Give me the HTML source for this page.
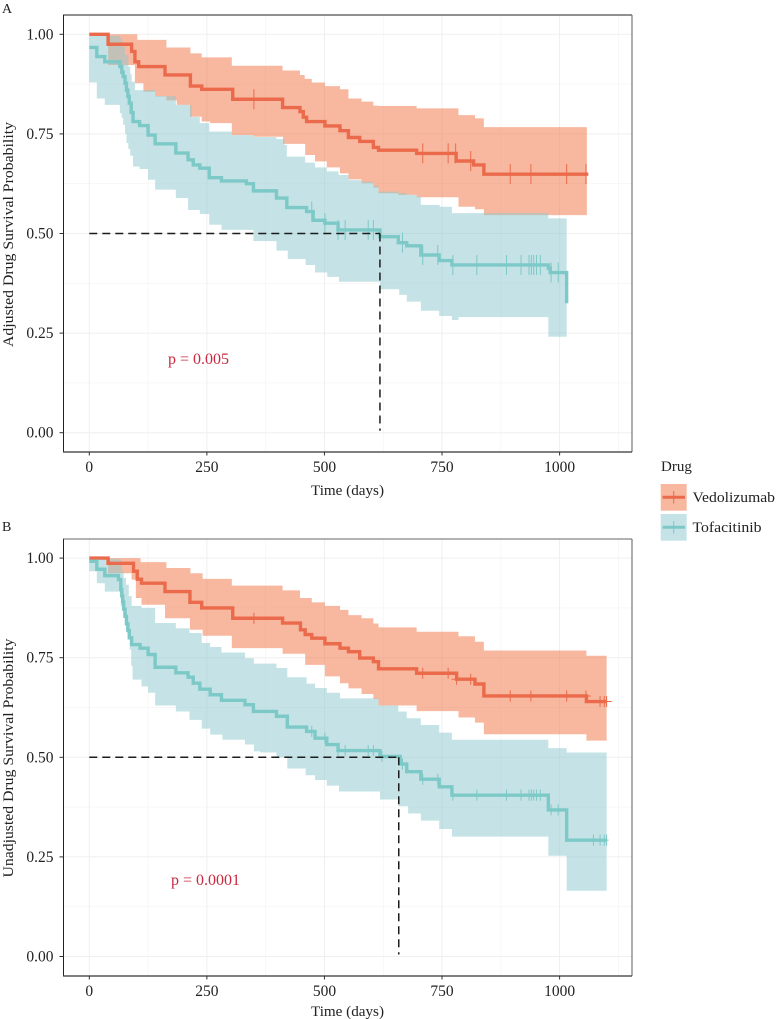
<!DOCTYPE html>
<html lang="en">
<head>
<meta charset="utf-8">
<title>Drug survival curves</title>
<style>
html,body{margin:0;padding:0;background:#fff;width:776px;height:1019px;overflow:hidden}
svg{display:block;font-family:"Liberation Serif",serif;fill:#222}
text{font-size:15px}
</style>
</head>
<body>
<svg id="chart" width="776" height="1019" viewBox="0 0 776 1019" xmlns="http://www.w3.org/2000/svg">
  <text x="2" y="13" style="font-size:14px">A</text>
  <text x="2" y="531" style="font-size:14px">B</text>
  <g id="panelA"></g>
  <g id="panelB"></g>
  <text x="347.5" y="495" text-anchor="middle" textLength="73" lengthAdjust="spacingAndGlyphs">Time (days)</text>
  <text x="347.5" y="1016" text-anchor="middle" textLength="73" lengthAdjust="spacingAndGlyphs">Time (days)</text>
  <text transform="translate(13,234.5) rotate(-90)" text-anchor="middle" textLength="225" lengthAdjust="spacingAndGlyphs">Adjusted Drug Survival Probability</text>
  <text transform="translate(13,758) rotate(-90)" text-anchor="middle" textLength="239" lengthAdjust="spacingAndGlyphs">Unadjusted Drug Survival Probability</text>
  <text x="168" y="364" style="font-size:16px;fill:#c9283e">p = 0.005</text>
  <text x="171" y="885" style="font-size:16px;fill:#c9283e">p = 0.0001</text>
  <g>
    <text x="661" y="471">Drug</text>
    <g>
      <rect x="660.7" y="484" width="26" height="26.7" fill="#f8b8a0"></rect>
      <line x1="662.5" x2="685" y1="497.3" y2="497.3" stroke="#ea6a4b" stroke-width="3"></line>
      <line x1="673.7" x2="673.7" y1="491" y2="503.5" stroke="#ea6a4b" stroke-width="1"></line>
      <text x="692.5" y="502" textLength="82.5" lengthAdjust="spacingAndGlyphs">Vedolizumab</text>
    </g>
    <g>
      <rect x="660.7" y="514" width="26" height="26.7" fill="#c5e3e6"></rect>
      <line x1="662.5" x2="685" y1="527.3" y2="527.3" stroke="#7cc9c7" stroke-width="3"></line>
      <line x1="673.7" x2="673.7" y1="521" y2="533.5" stroke="#7cc9c7" stroke-width="1"></line>
      <text x="692.5" y="532" textLength="69" lengthAdjust="spacingAndGlyphs">Tofacitinib</text>
    </g>
  </g>
</svg>
<script>
// ---- Axis tick values and labels ----
const xTickValues = [0, 250, 500, 750, 1000];
const xTickLabels = ['0', '250', '500', '750', '1000'];
const xMinorValues = [125, 375, 625, 875, 1125];
const yTickValues = [0, 0.25, 0.5, 0.75, 1];
const yTickLabels = ['0.00', '0.25', '0.50', '0.75', '1.00'];
const yMinorValues = [0.125, 0.375, 0.625, 0.875];

// ---- Panel A: Vedolizumab ----
const aVedoTime = [0, 40, 90, 97, 105, 161, 215, 239, 305, 411, 448, 455, 462, 501, 533, 551, 575, 604, 615, 696, 780, 817, 839];
const aVedoSurv = [1, 0.975, 0.957, 0.931, 0.919, 0.898, 0.870, 0.862, 0.837, 0.816, 0.806, 0.792, 0.781, 0.770, 0.758, 0.741, 0.731, 0.716, 0.709, 0.701, 0.682, 0.672, 0.649];
const aVedoEnd = 1061;
const aVedoCensor = [350, 709, 763, 779, 811, 895, 939, 1015, 1056];
const aVedoUpperTime = [0, 102, 164, 215, 239, 303, 411, 448, 458, 473, 501, 533, 551, 579, 604, 615, 696, 785, 820, 839];
const aVedoUpper = [1, 0.986, 0.967, 0.952, 0.942, 0.921, 0.909, 0.898, 0.888, 0.879, 0.870, 0.862, 0.839, 0.831, 0.821, 0.820, 0.814, 0.797, 0.789, 0.767];
const aVedoLowerTime = [0, 40, 97, 115, 140, 164, 186, 214, 239, 257, 303, 349, 412, 459, 480, 505, 533, 551, 579, 604, 615, 657, 696, 785, 820, 839];
const aVedoLower = [1, 0.923, 0.877, 0.856, 0.844, 0.834, 0.823, 0.793, 0.781, 0.777, 0.747, 0.743, 0.725, 0.697, 0.681, 0.666, 0.651, 0.636, 0.626, 0.615, 0.601, 0.597, 0.591, 0.567, 0.561, 0.546];
const aVedoRibbonEnd = 1058;

// ---- Panel A: Tofacitinib ----
const aTofaTime = [0, 16, 33, 65, 69, 72, 76, 79, 82, 85, 89, 93, 107, 125, 140, 184, 210, 221, 235, 255, 281, 334, 349, 398, 420, 462, 476, 501, 529, 618, 657, 675, 705, 744, 771, 976, 980, 1015];
const aTofaSurv = [0.967, 0.944, 0.931, 0.919, 0.905, 0.894, 0.877, 0.860, 0.844, 0.827, 0.804, 0.781, 0.771, 0.747, 0.725, 0.702, 0.685, 0.672, 0.664, 0.640, 0.632, 0.625, 0.607, 0.589, 0.565, 0.555, 0.533, 0.526, 0.509, 0.492, 0.477, 0.469, 0.446, 0.432, 0.421, 0.413, 0.402, 0.325];
const aTofaEnd = 1015;
const aTofaCensor = [473, 501, 529, 544, 593, 604, 666, 709, 741, 773, 824, 887, 918, 935, 940, 945, 951, 959, 982, 997];
const aTofaUpperTime = [0, 65, 70, 76, 83, 87, 90, 97, 140, 184, 213, 218, 235, 255, 303, 349, 398, 415, 420, 459, 480, 505, 530, 551, 579, 604, 615, 657, 675, 696, 705, 745, 771, 976];
const aTofaUpper = [0.996, 0.990, 0.969, 0.948, 0.919, 0.900, 0.881, 0.860, 0.845, 0.823, 0.821, 0.792, 0.777, 0.756, 0.747, 0.742, 0.737, 0.722, 0.693, 0.678, 0.666, 0.656, 0.647, 0.634, 0.630, 0.620, 0.605, 0.601, 0.597, 0.592, 0.572, 0.567, 0.551, 0.538];
const aTofaLowerTime = [0, 16, 33, 65, 69, 72, 76, 79, 83, 87, 93, 107, 125, 140, 184, 210, 235, 255, 281, 320, 349, 398, 422, 460, 480, 506, 531, 618, 659, 675, 705, 744, 771, 785, 976];
const aTofaLower = [0.879, 0.839, 0.823, 0.802, 0.790, 0.773, 0.750, 0.727, 0.712, 0.695, 0.668, 0.662, 0.635, 0.610, 0.589, 0.559, 0.549, 0.522, 0.509, 0.509, 0.481, 0.457, 0.436, 0.421, 0.402, 0.391, 0.379, 0.360, 0.346, 0.329, 0.306, 0.293, 0.283, 0.290, 0.241];
const aTofaRibbonEnd = 1015;

// ---- Panel A: median reference ----
const aMedianTime = [618];
const aMedianSurv = [0.5];

// ---- Panel B: Vedolizumab ----
const bVedoTime = [0, 40, 94, 102, 111, 161, 214, 239, 305, 411, 449, 459, 473, 501, 533, 551, 575, 604, 615, 696, 781, 820, 839, 1057];
const bVedoSurv = [1, 0.987, 0.967, 0.947, 0.937, 0.916, 0.889, 0.875, 0.849, 0.837, 0.820, 0.808, 0.799, 0.785, 0.774, 0.765, 0.749, 0.740, 0.722, 0.711, 0.696, 0.684, 0.654, 0.640];
const bVedoEnd = 1100;
const bVedoCensor = [350, 709, 763, 781, 811, 895, 939, 1015, 1056, 1086, 1095, 1100];
const bVedoUpperTime = [0, 109, 164, 215, 241, 303, 411, 448, 473, 501, 533, 551, 579, 604, 615, 696, 785, 820, 839, 1057];
const bVedoUpper = [1, 0.990, 0.975, 0.962, 0.948, 0.931, 0.919, 0.900, 0.889, 0.880, 0.870, 0.857, 0.849, 0.836, 0.826, 0.815, 0.804, 0.790, 0.768, 0.755];
const bVedoLowerTime = [0, 40, 90, 99, 111, 161, 214, 241, 303, 411, 459, 501, 533, 551, 579, 604, 615, 696, 785, 820, 839, 1057];
const bVedoLower = [1, 0.962, 0.946, 0.900, 0.883, 0.849, 0.820, 0.805, 0.774, 0.760, 0.732, 0.703, 0.686, 0.673, 0.659, 0.646, 0.630, 0.616, 0.600, 0.587, 0.558, 0.542];
const bVedoRibbonEnd = 1100;

// ---- Panel B: Tofacitinib ----
const bTofaTime = [0, 16, 33, 62, 67, 69, 71, 73, 76, 79, 82, 85, 90, 108, 125, 140, 184, 210, 221, 235, 257, 281, 331, 349, 398, 421, 462, 480, 505, 529, 618, 661, 675, 705, 744, 771, 976, 1015];
const bTofaSurv = [0.992, 0.972, 0.956, 0.946, 0.921, 0.905, 0.890, 0.872, 0.854, 0.835, 0.818, 0.800, 0.783, 0.774, 0.758, 0.726, 0.712, 0.701, 0.686, 0.671, 0.657, 0.643, 0.632, 0.615, 0.603, 0.576, 0.565, 0.548, 0.532, 0.517, 0.502, 0.483, 0.464, 0.445, 0.426, 0.405, 0.368, 0.292];
const bTofaEnd = 1100;
const bTofaCensor = [473, 501, 529, 544, 593, 604, 622, 666, 709, 741, 773, 824, 887, 918, 935, 940, 945, 951, 959, 982, 997, 1072, 1086, 1095, 1100];
const bTofaUpperTime = [0, 62, 69, 73, 78, 84, 90, 111, 140, 184, 213, 239, 257, 281, 331, 350, 398, 421, 462, 480, 505, 533, 615, 657, 675, 705, 744, 771, 976, 1015];
const bTofaUpper = [0.998, 0.996, 0.967, 0.950, 0.933, 0.905, 0.880, 0.875, 0.837, 0.824, 0.812, 0.787, 0.777, 0.763, 0.749, 0.735, 0.724, 0.701, 0.685, 0.674, 0.662, 0.648, 0.630, 0.615, 0.598, 0.581, 0.562, 0.544, 0.523, 0.512];
const bTofaLowerTime = [0, 16, 33, 67, 72, 78, 82, 86, 89, 92, 111, 125, 140, 184, 213, 239, 257, 283, 331, 350, 363, 398, 421, 460, 480, 505, 531, 618, 657, 678, 705, 744, 771, 976, 1015];
const bTofaLower = [0.967, 0.937, 0.916, 0.879, 0.855, 0.829, 0.800, 0.770, 0.730, 0.695, 0.678, 0.662, 0.630, 0.615, 0.594, 0.572, 0.557, 0.544, 0.532, 0.515, 0.512, 0.500, 0.472, 0.455, 0.443, 0.429, 0.414, 0.394, 0.377, 0.359, 0.341, 0.320, 0.301, 0.253, 0.165];
const bTofaRibbonEnd = 1100;

// ---- Panel B: median reference ----
const bMedianTime = [658];
const bMedianSurv = [0.5];

// ---- Rendering ----
const NS = 'http://www.w3.org/2000/svg';
const RED = '#ea6a4b', TEAL = '#7cc9c7';

function mk(parent, tag, attrs) {
  const el = document.createElementNS(NS, tag);
  for (const k in attrs) el.setAttribute(k, attrs[k]);
  parent.appendChild(el);
  return el;
}

function stepPoints(times, values, endTime) {
  const pts = [];
  for (let i = 0; i < times.length; i++) {
    if (i > 0) pts.push([times[i], values[i - 1]]);
    pts.push([times[i], values[i]]);
  }
  if (endTime > times[times.length - 1]) pts.push([endTime, values[values.length - 1]]);
  return pts;
}

function survAt(times, values, t) {
  let v = values[0];
  for (let i = 0; i < times.length; i++) if (times[i] <= t) v = values[i];
  return v;
}

function drawPanel(g, box, sx, sy, curves, medianT, medianS, censorHalf) {
  const bg = mk(g, 'rect', {x: box.left, y: box.top, width: box.right - box.left, height: box.bottom - box.top, fill: '#fff'});
  
  

  xMinorValues.forEach(function (v) {
    const l = mk(g, 'line', {x1: sx(v), x2: sx(v), y1: box.top, y2: box.bottom, stroke: '#f5f5f5', 'stroke-width': 0.8});
    
    
  });
  yMinorValues.forEach(function (v) {
    const l = mk(g, 'line', {x1: box.left, x2: box.right, y1: sy(v), y2: sy(v), stroke: '#f5f5f5', 'stroke-width': 0.8});
    
    
  });
  xTickValues.forEach(function (v) {
    const l = mk(g, 'line', {x1: sx(v), x2: sx(v), y1: box.top, y2: box.bottom, stroke: '#efefef', 'stroke-width': 1});
    
    
  });
  yTickValues.forEach(function (v) {
    const l = mk(g, 'line', {x1: box.left, x2: box.right, y1: sy(v), y2: sy(v), stroke: '#efefef', 'stroke-width': 1});
    
    
  });

  curves.forEach(function (c) {
    const top = stepPoints(c.upperTime, c.upper, c.ribbonEnd);
    const bottom = stepPoints(c.lowerTime, c.lower, c.ribbonEnd).reverse();
    const d = top.concat(bottom).map(function (p, i) {
      return (i ? 'L' : 'M') + sx(p[0]).toFixed(2) + ' ' + sy(p[1]).toFixed(2);
    }).join(' ') + ' Z';
    const r = mk(g, 'path', {d: d, fill: c.ribbonColor, 'fill-opacity': 0.5, stroke: 'none'});
    
    
  });

  curves.forEach(function (c) {
    const pts = stepPoints(c.time, c.surv, c.end);
    const d = pts.map(function (p, i) {
      return (i ? 'L' : 'M') + sx(p[0]).toFixed(2) + ' ' + sy(p[1]).toFixed(2);
    }).join(' ');
    const l = mk(g, 'path', {d: d, fill: 'none', stroke: c.color, 'stroke-width': 3.4, 'stroke-linejoin': 'miter'});
    
    
    c.censor.forEach(function (t) {
      const s = survAt(c.time, c.surv, t);
      const v = mk(g, 'path', {
        d: 'M' + sx(t).toFixed(2) + ' ' + (sy(s) - censorHalf).toFixed(2) + ' V' + (sy(s) + censorHalf).toFixed(2) +
           ' M' + (sx(t) - c.arm).toFixed(2) + ' ' + sy(s).toFixed(2) + ' H' + (sx(t) + c.arm).toFixed(2),
        stroke: c.color, 'stroke-width': 1, fill: 'none'
      });
      
      
    });
  });

  const mh = mk(g, 'line', {x1: sx(0), x2: sx(medianT[0]), y1: sy(medianS[0]), y2: sy(medianS[0]), stroke: '#1c1c1c', 'stroke-width': 1.5, 'stroke-dasharray': '8 5'});
  
  
  const mv = mk(g, 'line', {x1: sx(medianT[0]), x2: sx(medianT[0]), y1: sy(medianS[0]), y2: sy(0.005), stroke: '#1c1c1c', 'stroke-width': 1.5, 'stroke-dasharray': '8 5'});
  
  

  const frameLeft = mk(g, 'line', {x1: box.left, x2: box.left, y1: box.top - 0.5, y2: box.bottom + 0.5, stroke: '#222', 'stroke-width': 1});
  
  
  const frameTop = mk(g, 'line', {x1: box.left, x2: box.right, y1: box.top, y2: box.top, stroke: box.topColor, 'stroke-width': 1});
  
  
  const frameRight = mk(g, 'line', {x1: box.right, x2: box.right, y1: box.top, y2: box.bottom, stroke: '#777', 'stroke-width': 1.2});
  
  
  const frameBottom = mk(g, 'line', {x1: box.left, x2: box.right, y1: box.bottom, y2: box.bottom, stroke: '#555', 'stroke-width': 1.4});
  
  

  xTickValues.forEach(function (v, i) {
    const t = mk(g, 'line', {x1: sx(v), x2: sx(v), y1: box.bottom, y2: box.bottom + 3.5, stroke: '#333', 'stroke-width': 1});
    
    
    const lab = mk(g, 'text', {x: sx(v), y: box.bottom + 20, 'text-anchor': 'middle', style: 'font-size:15.5px'});
    lab.textContent = xTickLabels[i];
    
    
  });
  yTickValues.forEach(function (v, i) {
    const t = mk(g, 'line', {x1: box.left - 4, x2: box.left, y1: sy(v), y2: sy(v), stroke: '#333', 'stroke-width': 1});
    
    
    const lab = mk(g, 'text', {x: box.left - 10, y: sy(v) + 5, 'text-anchor': 'end', style: 'font-size:15.5px'});
    lab.textContent = yTickLabels[i];
    
    
  });
}

function xScale(t) { return 89.3 + t * 0.4703; }

drawPanel(
  document.getElementById('panelA'),
  {left: 63.5, right: 632, top: 15, bottom: 452, topColor: '#222'},
  xScale,
  function (s) { return 432.7 - s * 398.4; },
  [
    {name: 'vedolizumab', color: RED, arm: 2, ribbonColor: '#f17141', time: aVedoTime, surv: aVedoSurv, end: aVedoEnd, censor: aVedoCensor,
     upperTime: aVedoUpperTime, upper: aVedoUpper, lowerTime: aVedoLowerTime, lower: aVedoLower, ribbonEnd: aVedoRibbonEnd},
    {name: 'tofacitinib', color: TEAL, arm: 2, ribbonColor: '#8bc7cd', time: aTofaTime, surv: aTofaSurv, end: aTofaEnd, censor: aTofaCensor,
     upperTime: aTofaUpperTime, upper: aTofaUpper, lowerTime: aTofaLowerTime, lower: aTofaLower, ribbonEnd: aTofaRibbonEnd}
  ],
  aMedianTime, aMedianSurv, 10
);

drawPanel(
  document.getElementById('panelB'),
  {left: 63.5, right: 632, top: 539, bottom: 976, topColor: '#666'},
  xScale,
  function (s) { return 956.5 - s * 398.4; },
  [
    {name: 'vedolizumab', color: RED, arm: 5, ribbonColor: '#f17141', time: bVedoTime, surv: bVedoSurv, end: bVedoEnd, censor: bVedoCensor,
     upperTime: bVedoUpperTime, upper: bVedoUpper, lowerTime: bVedoLowerTime, lower: bVedoLower, ribbonEnd: bVedoRibbonEnd},
    {name: 'tofacitinib', color: TEAL, arm: 2, ribbonColor: '#8bc7cd', time: bTofaTime, surv: bTofaSurv, end: bTofaEnd, censor: bTofaCensor,
     upperTime: bTofaUpperTime, upper: bTofaUpper, lowerTime: bTofaLowerTime, lower: bTofaLower, ribbonEnd: bTofaRibbonEnd}
  ],
  bMedianTime, bMedianSurv, 5.5
);
</script>
</body>
</html>
